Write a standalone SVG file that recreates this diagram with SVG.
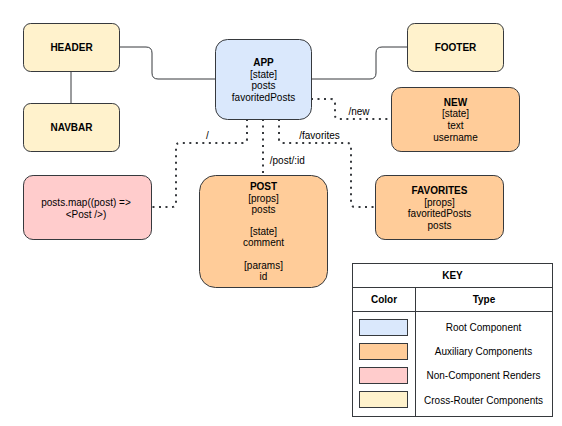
<svg xmlns="http://www.w3.org/2000/svg" width="562" height="426" viewBox="0 0 562 426">
<style>
text{font-family:"Liberation Sans",Arial,sans-serif;font-size:10px;fill:#000;text-anchor:middle}
.b{font-weight:bold}
.node{stroke:#36393d;stroke-width:1}
.root{fill:#dae8fc}
.aux{fill:#ffcc99}
.non{fill:#ffcccc}
.cross{fill:#fff2cc}
.solid{fill:none;stroke:#36393d;stroke-width:1}
.dot{fill:none;stroke:#36393d;stroke-width:2;stroke-dasharray:2 4.5;stroke-linecap:butt}
.grid{fill:none;stroke:#36393d;stroke-width:1}
</style>
<rect width="562" height="426" fill="#fff"/>
<g id="connectors">
<path class="solid" d="M119 47 H146 Q152 47 152 53 V73 Q152 79 158 79 H215"/>
<path class="solid" d="M71 71 V103"/>
<path class="solid" d="M311 79 H370 Q376 79 376 73 V53 Q376 47 382 47 H407"/>
<path class="dot" d="M311 99 H331 Q335 99 335 103 V115 Q335 119 339 119 H391"/>
<path class="dot" d="M247 119 V139 Q247 143 243 143 H180 Q176 143 176 147 V203 Q176 207 172 207 H152"/>
<path class="dot" d="M263 119 V175"/>
<path class="dot" d="M279 119 V139 Q279 143 283 143 H347 Q351 143 351 147 V203 Q351 207 355 207 H376"/>
<text x="207.5" y="138.6">/</text>
<text x="319.5" y="139.3">/favorites</text>
<text x="287.3" y="163.6">/post/:id</text>
<text x="359" y="115.3">/new</text>
</g>
<g id="header"><rect class="node cross" x="23.5" y="23.5" width="96" height="48" rx="7.2"/><text class="b" x="71.5" y="51">HEADER</text></g>
<g id="navbar"><rect class="node cross" x="23.5" y="103.5" width="96" height="48" rx="7.2"/><text class="b" x="71.5" y="131.3">NAVBAR</text></g>
<g id="footer"><rect class="node cross" x="407.5" y="23.5" width="96" height="48" rx="7.2"/><text class="b" x="455.5" y="51">FOOTER</text></g>
<g id="app"><rect class="node root" x="215.5" y="39.5" width="96" height="80" rx="12"/>
<text class="b" x="263.5" y="66">APP</text><text x="263.5" y="77.7">[state]</text><text x="263.5" y="89.4">posts</text><text x="263.5" y="101">favoritedPosts</text></g>
<g id="new"><rect class="node aux" x="391.5" y="87.5" width="128" height="64" rx="9.6"/>
<text class="b" x="455.5" y="105.7">NEW</text><text x="455.5" y="117.4">[state]</text><text x="455.5" y="129">text</text><text x="455.5" y="140.7">username</text></g>
<g id="favorites"><rect class="node aux" x="375.5" y="175.5" width="128" height="64" rx="9.6"/>
<text class="b" x="439.5" y="194.3">FAVORITES</text><text x="439.5" y="206">[props]</text><text x="439.5" y="217.3">favoritedPosts</text><text x="439.5" y="228.6">posts</text></g>
<g id="postsmap"><rect class="node non" x="23.5" y="175.5" width="128" height="64" rx="9.6"/>
<text x="86" y="206.3">posts.map((post) =&gt;</text><text x="86" y="217.6">&lt;Post /&gt;)</text></g>
<g id="post"><rect class="node aux" x="199.5" y="175.5" width="128" height="112" rx="16"/>
<text class="b" x="263.5" y="190.3">POST</text><text x="263.5" y="201.8">[props]</text><text x="263.5" y="213">posts</text>
<text x="263.5" y="235.2">[state]</text><text x="263.5" y="246.3">comment</text>
<text x="263.5" y="269">[params]</text><text x="263.5" y="280">id</text></g>
<g id="key">
<rect class="grid" x="352.5" y="263.5" width="200" height="153"/>
<line class="grid" x1="352.5" y1="287.5" x2="552.5" y2="287.5"/>
<line class="grid" x1="352.5" y1="311.5" x2="552.5" y2="311.5"/>
<line class="grid" x1="415.5" y1="287.5" x2="415.5" y2="416.5"/>
<text class="b" x="452.5" y="279.3">KEY</text>
<text class="b" x="384" y="303">Color</text>
<text class="b" x="484" y="303">Type</text>
<rect class="node root" x="359.5" y="319.5" width="48" height="16"/>
<rect class="node aux" x="359.5" y="343.5" width="48" height="16"/>
<rect class="node non" x="359.5" y="367.5" width="48" height="16"/>
<rect class="node cross" x="359.5" y="391.5" width="48" height="16"/>
<text x="483.5" y="331">Root Component</text>
<text x="483.5" y="355.3">Auxiliary Components</text>
<text x="483.5" y="379">Non-Component Renders</text>
<text x="483.5" y="403.6">Cross-Router Components</text>
</g>
</svg>
